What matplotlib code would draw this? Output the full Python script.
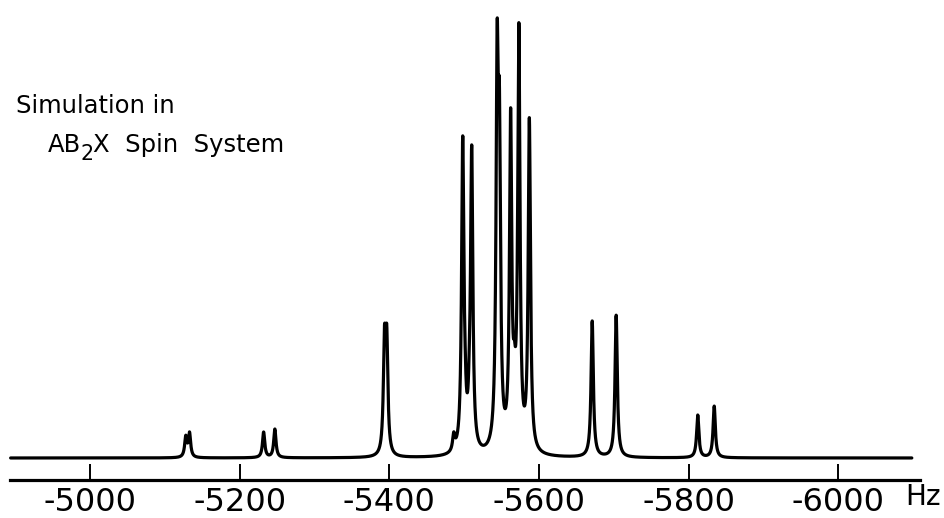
import numpy as np
import matplotlib
matplotlib.use("Agg")
import matplotlib.pyplot as plt

# ---- data ----
# line positions (Hz, magnitude; plotted as negative) and amplitudes (arbitrary units)
line_freq = [5128, 5133, 5232, 5247, 5393.5, 5396.5, 5486, 5498, 5501, 5507, 5510,
             5544, 5547, 5562, 5567, 5573, 5587, 5671, 5703, 5812, 5834]
line_amp = [20, 23.7, 25.5, 28.5, 105, 105, 16, 306, 25, 25, 296,
            358, 271, 325, 40, 415, 330, 136, 142, 42.5, 51.5]
half_width = 1.8  # Hz, Lorentzian HWHM

tick_values = [-5000, -5200, -5400, -5600, -5800, -6000]
tick_labels = ["-5000", "-5200", "-5400", "-5600", "-5800", "-6000"]
unit_label = "Hz"
title_line1 = "Simulation in"
title_line2 = ["AB", "2", "X  Spin  System"]

spec_start, spec_end = 4894, 6098
axis_start, axis_end = 4893, 6109

# ---- figure ----
W, H = 944, 518
fig = plt.figure(figsize=(W / 100, H / 100), dpi=100)
axis_px = 480  # axis line, px from top
ax = fig.add_axes([0, 1 - axis_px / H, 1, axis_px / H])

f = np.linspace(spec_start, spec_end, 40000)
y = np.zeros_like(f)
for c, a in zip(line_freq, line_amp):
    y += a / (1 + ((f - c) / half_width) ** 2)

ax.plot(-f, y, color="black", lw=2.3, solid_joinstyle="round", solid_capstyle="round")

ax.set_xlim(-4879.8, -6141.0)
ax.set_ylim(-22, 458)

for s in ["top", "left", "right"]:
    ax.spines[s].set_visible(False)
ax.spines["bottom"].set_linewidth(2.3)
ax.spines["bottom"].set_bounds(-axis_start, -axis_end)
ax.set_yticks([])
ax.set_xticks(tick_values)
ax.set_xticklabels(tick_labels)
ax.tick_params(axis="x", direction="in", length=11.5, width=1.4, pad=5,
               labelsize=23, colors="black")
ax.patch.set_alpha(0)

fig.text(941 / W, 1 - 497 / H, unit_label, fontsize=20, ha="right", va="center")
fig.text(16 / W, 1 - 113 / H, title_line1, fontsize=17.5, ha="left", va="baseline")

# second title line with a full-size, lowered subscript
renderer = fig.canvas.get_renderer()
x0 = 48
fs = 17.5
t1 = fig.text(x0 / W, 1 - 152 / H, title_line2[0], fontsize=fs, ha="left", va="baseline")
w1 = t1.get_window_extent(renderer).width
t2 = fig.text((x0 + w1 - 1) / W, 1 - 160 / H, title_line2[1], fontsize=fs * 0.85,
              ha="left", va="baseline")
w2 = t2.get_window_extent(renderer).width
fig.text((x0 + w1 + w2 - 1) / W, 1 - 152 / H, title_line2[2], fontsize=fs,
         ha="left", va="baseline")

fig.savefig("out.png", dpi=100, facecolor="white")
